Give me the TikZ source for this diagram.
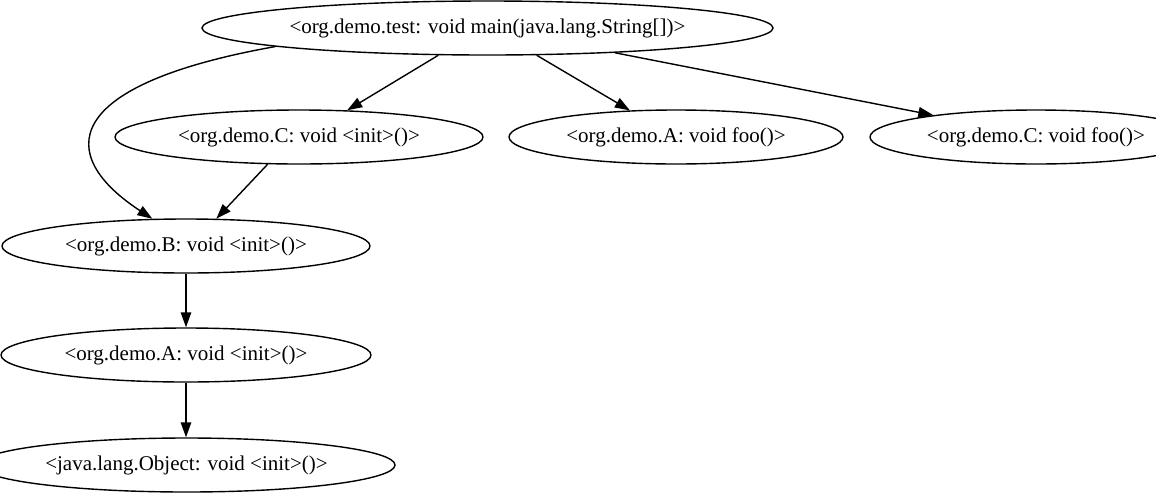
\documentclass[tikz,border=0pt]{standalone}
\usepackage{fontspec}
\setmainfont{Liberation Serif}
\usetikzlibrary{arrows.meta,shapes.geometric}

\tikzset{
  method/.style={draw, ellipse, line width=1.4pt, inner sep=0pt, minimum height=54pt, font=\fontsize{21}{25}\selectfont},
  call/.style={-{Triangle[length=15pt,width=10.5pt]}, line width=1.4pt}
}

\begin{document}
\begin{tikzpicture}[x=1pt, y=-1pt]
  \useasboundingbox (0,0) rectangle (1156,499);
  % call graph nodes
  \node[method, minimum width=571pt] (main) at (487.5,28) {<org.demo.test: void main(java.lang.String[])>};
  \node[method, minimum width=368pt] (cinit) at (299,137) {<org.demo.C: void <init>()>};
  \node[method, minimum width=334pt] (afoo) at (676,137) {<org.demo.A: void foo()>};
  \node[method, minimum width=332pt] (cfoo) at (1036,137) {<org.demo.C: void foo()>};
  \node[method, minimum width=368pt] (binit) at (186,246) {<org.demo.B: void <init>()>};
  \node[method, minimum width=370pt] (ainit) at (186,355) {<org.demo.A: void <init>()>};
  \node[method, minimum width=417pt] (objinit) at (186.5,465) {<java.lang.Object: void <init>()>};
  % calls
  \draw[call] (main.209.8) -- (cinit.29.6);
  \draw[call] (main.-29.8) -- (afoo.150.6);
  \draw[call] (main.-11.6) -- (cfoo.168.9);
  \draw[call] (main.185.5) .. controls (60,85) and (55,155) .. (binit.141.5);
  \draw[call] (cinit.221.6) -- (binit.42.1);
  \draw[call] (binit) -- (ainit);
  \draw[call] (ainit) -- (ainit |- objinit.north);
\end{tikzpicture}
\end{document}
